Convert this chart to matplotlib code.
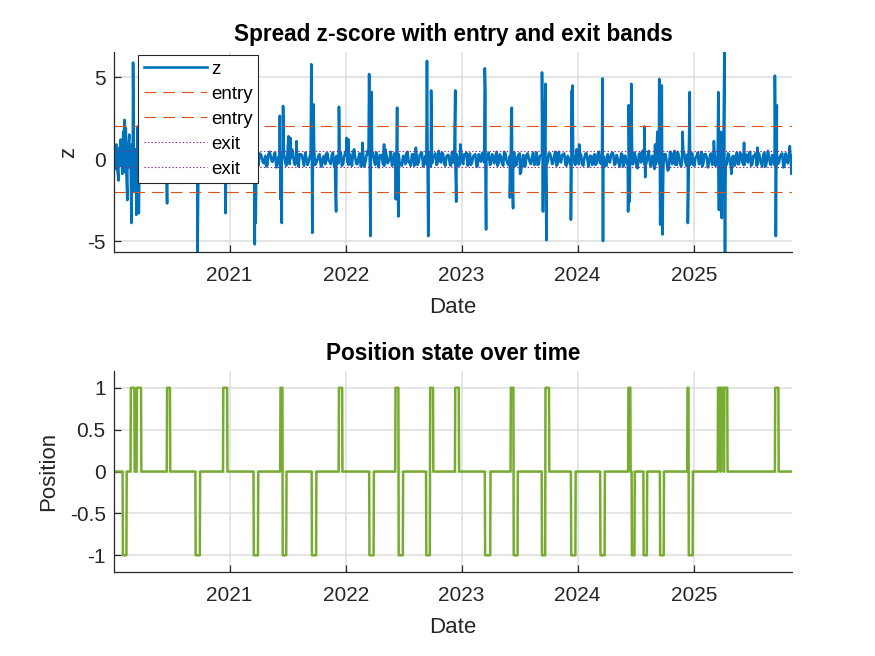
import numpy as np
import pandas as pd
import matplotlib
matplotlib.use("Agg")
import matplotlib.pyplot as plt
import matplotlib.dates as mdates

plt.rcParams["font.family"] = ["Liberation Sans", "DejaVu Sans"]
plt.rcParams["axes.unicode_minus"] = False
plt.rcParams["lines.scale_dashes"] = False

# ---- data -------------------------------------------------------------
start_date = "2020-01-03"
end_date = "2025-11-06"

# background values of the spread z-score, Fridays (one row per half year)
z_fri = [
    0.3, -0.6, 0.5, -0.4, 0.2, -0.8, 0.6, -0.5, 0.9, -0.7, 0.4, -0.3, 0.35, -0.4, 0.1, -0.35, 0.3, -0.2, 0.25, -0.45, 0.15, -0.3, 0.4, -0.25, 0.2, -0.4,
    0.3, -0.15, 0.35, -0.4, 0.2, -0.3, 0.45, -0.2, 0.1, -0.35, 0.3, -0.45, 0.25, -0.1, 0.35, -0.3, 0.2, -0.4, 0.15, -0.25, 0.4, -0.3, 0.1, -0.5, 0.3, -0.2,
    0.25, -0.35, 0.4, -0.2, 0.15, -0.45, 0.3, -0.1, 0.35, -0.3, 0.55, -0.25, 0.1, -0.4, 0.3, -0.2, 0.2, -0.35, 0.45, -0.15, 0.3, -0.5, 0.15, -0.3, 0.4, -0.2,
    0.35, -0.3, 0.6, -0.25, 0.2, -0.45, 0.3, -0.1, 0.4, -0.35, 0.15, -0.3, 0.5, -0.2, 0.25, -0.4, 0.1, -0.3, 0.35, -0.15, 0.3, -0.45, 0.2, -0.25, 0.4, -0.3,
    0.45, -0.2, 0.3, -0.4, 0.6, -0.3, 0.15, -0.45, 0.35, -0.2, 0.5, -0.35, 0.2, -0.15, 0.4, -0.5, 0.25, -0.3, 0.6, -0.25, 0.1, -0.4, 0.35, -0.2, 0.3, -0.35,
    0.2, -0.3, 0.45, -0.15, 0.3, -0.4, 0.25, -0.2, 0.35, -0.45, 0.2, -0.3, 0.4, -0.25, 0.15, -0.35, 0.5, -0.2, 0.3, -0.4, 0.25, -0.3, 0.45, -0.15, 0.3, -0.4,
    0.55, -0.3, 0.2, -0.4, 0.35, -0.2, 0.25, -0.45, 0.3, -0.15, 0.4, -0.3, 0.2, -0.35, 0.3, -0.25, 0.45, -0.2, 0.15, -0.4, 0.35, -0.3, 0.2, -0.25, 0.4, -0.35,
    0.3, -0.8, 0.25, -0.4, 0.35, -0.2, 0.15, -0.35, 0.4, -0.3, 0.2, -0.45, 0.3, -0.15, 0.35, -0.3, 0.25, -0.4, 0.45, -0.2, 0.3, -0.35, 0.2, -0.3, 0.5, -0.25,
    0.6, -0.3, 0.25, -0.4, 0.35, -0.15, 0.2, -0.35, 0.3, -0.25, 0.45, -0.3, 0.15, -0.4, 0.3, -0.2, 0.4, -0.35, 0.25, -0.3, 0.35, -0.45, 0.2, -0.25, 0.3, -0.3,
    0.4, -0.5, 0.3, -0.2, 0.55, -0.4, 0.25, -0.3, 0.2, -0.6, 0.35, -0.25, 0.6, -0.4, 0.3, -0.7, 0.45, -0.3, 0.5, -0.35, 0.2, -0.45, 0.4, -0.25, 0.3, -0.35,
    0.35, -0.4, 0.2, -0.3, 0.45, -0.25, 0.3, -0.5, 0.25, -0.35, 0.4, -0.2, 0.3, -0.45, 0.2, -0.3, 0.35, -0.25, 0.15, -0.4, 0.4, -0.3, 0.25, -0.35, 0.3, -0.2,
    0.45, -0.3, 0.2, -0.4, 0.35, -0.25, 0.3, -0.45, 0.5, -0.3, 0.25, -0.35, 0.4, -0.2, 0.3, -0.5, 0.35, -0.25, 0.4,
]
# background values, Mondays
z_mon = [
    0.1, -0.5, 0.7, 0.2, -0.6, -0.3, 0.8, 0.1, -0.5, 0.6, -0.1, -0.4, 0.2, 0.3, -0.45, -0.1, 0.15, 0.4, -0.3, 0.05, 0.35, -0.4, -0.15, 0.3, 0.1, -0.35,
    -0.05, 0.35, -0.4, 0.1, 0.3, -0.25, -0.4, 0.2, 0.35, -0.1, -0.3, 0.15, 0.4, -0.35, 0.05, 0.25, -0.45, -0.2, 0.3, 0.1, -0.35, 0.25, -0.1, 0.4, -0.3, -0.15,
    0.1, 0.3, -0.45, -0.1, 0.35, 0.2, -0.3, -0.4, 0.15, 0.3, -0.2, 0.05, -0.4, 0.35, 0.1, -0.25, -0.45, 0.3, 0.2, -0.15, 0.4, -0.35, -0.05, 0.25, 0.3, -0.4,
    -0.2, 0.05, 0.45, -0.35, -0.1, 0.3, 0.25, -0.4, 0.1, -0.2, 0.4, 0.15, -0.35, -0.05, 0.3, -0.45, 0.2, 0.35, -0.1, -0.3, 0.4, 0.05, -0.25, 0.3, -0.4, 0.1,
    0.25, -0.35, -0.15, 0.45, 0.1, -0.3, 0.35, -0.2, -0.45, 0.15, 0.3, -0.05, 0.4, -0.35, -0.2, 0.25, 0.1, -0.4, 0.3, -0.15, 0.45, -0.3, 0.05, 0.35, -0.25, -0.4,
    0.15, 0.35, -0.2, -0.4, 0.3, 0.05, -0.35, 0.25, 0.4, -0.1, -0.3, 0.2, -0.45, 0.1, 0.35, -0.25, -0.05, 0.4, -0.3, 0.15, 0.25, -0.4, -0.2, 0.3, 0.1, -0.35,
    -0.1, 0.3, 0.4, -0.25, -0.35, 0.15, 0.3, -0.45, 0.05, 0.35, -0.2, -0.1, 0.4, -0.3, 0.2, 0.1, -0.4, 0.3, -0.25, 0.45, -0.05, -0.35, 0.2, 0.3, -0.4, 0.15,
    0.35, -0.2, -0.45, 0.25, 0.1, -0.3, 0.4, -0.15, -0.35, 0.2, 0.3, -0.05, -0.4, 0.35, 0.15, -0.25, 0.45, -0.3, -0.1, 0.25, 0.35, -0.4, 0.05, -0.2, 0.3, -0.35,
    -0.15, 0.4, -0.3, 0.05, 0.35, -0.45, 0.2, 0.1, -0.35, 0.3, -0.2, 0.4, 0.15, -0.4, -0.1, 0.25, 0.35, -0.3, 0.05, -0.45, 0.3, 0.2, -0.25, -0.1, 0.4, -0.3,
    0.2, -0.55, 0.35, 0.45, -0.3, -0.2, 0.5, -0.45, 0.1, -0.35, 0.4, 0.25, -0.5, 0.3, -0.15, -0.6, 0.4, 0.2, -0.35, 0.45, -0.25, -0.1, 0.35, -0.4, 0.15, 0.3,
    -0.35, 0.1, 0.4, -0.25, -0.45, 0.3, 0.15, -0.3, 0.35, -0.1, -0.4, 0.25, 0.45, -0.2, 0.05, -0.35, 0.3, -0.45, 0.2, 0.1, -0.3, 0.4, -0.15, -0.35, 0.25, 0.3,
    -0.4, 0.2, 0.35, -0.3, 0.1, -0.45, 0.4, -0.2, 0.25, -0.35, -0.1, 0.45, -0.3, 0.15, 0.35, -0.4, 0.05, 0.3, -0.25,
]

# spikes around the roll dates and other excursions
spike_dates = [
    "2020-01-10", "2020-01-17", "2020-01-24", "2020-01-29", "2020-02-01", "2020-02-05",
    "2020-02-09", "2020-02-14", "2020-02-20", "2020-02-27", "2020-03-03", "2020-03-07",
    "2020-03-13", "2020-03-17", "2020-03-21", "2020-03-29",
    "2020-06-15", "2020-06-18", "2020-09-19", "2020-09-22", "2020-12-16", "2020-12-19",
    "2021-03-18", "2021-03-21", "2021-03-24",
    "2021-06-08", "2021-06-10", "2021-06-14", "2021-06-18",
    "2021-07-05", "2021-07-11", "2021-07-30",
    "2021-09-15", "2021-09-18", "2021-09-22",
    "2021-11-29", "2021-12-02", "2021-12-11",
    "2022-01-04", "2022-01-10", "2022-02-23",
    "2022-03-16", "2022-03-20", "2022-03-24", "2022-05-02",
    "2022-06-08", "2022-06-12", "2022-06-16", "2022-08-10",
    "2022-09-14", "2022-09-18", "2022-09-27",
    "2022-12-12", "2022-12-15", "2022-12-28",
    "2023-03-15", "2023-03-17", "2023-03-19",
    "2023-06-02", "2023-06-06", "2023-06-08", "2023-06-12", "2023-07-04",
    "2023-09-11", "2023-09-14", "2023-09-22", "2023-09-25",
    "2023-12-11", "2023-12-14", "2023-12-16", "2024-01-06",
    "2024-03-19", "2024-03-21",
    "2024-06-08", "2024-06-10", "2024-06-13", "2024-06-18",
    "2024-07-29", "2024-08-01",
    "2024-09-01", "2024-09-08", "2024-09-14", "2024-09-17", "2024-09-22", "2024-09-24",
    "2024-11-26", "2024-12-13", "2024-12-19",
    "2025-03-05", "2025-03-19", "2025-03-21", "2025-03-27", "2025-03-30",
    "2025-04-07", "2025-04-09", "2025-04-29", "2025-06-08", "2025-07-20",
    "2025-09-13", "2025-09-16", "2025-09-19",
    "2025-10-30", "2025-11-04", "2025-11-06",
]
spike_vals = [
    0.9, -1.3, 1.2, -0.9, 1.7, 2.4,
    1.9, -2.5, 1.5, -3.9, 5.9, -2.0,
    -3.4, 2.0, -3.3, 1.0,
    2.6, -2.7, 4.5, -5.65, 3.5, -3.3,
    4.0, -5.2, -3.9,
    2.65, -2.45, -3.9, 3.25,
    1.4, 1.3, 1.1,
    5.8, -4.5, 3.35,
    -1.1, -3.2, 3.2,
    1.3, 1.2, 1.0,
    5.2, -4.7, 4.1, 0.9,
    -2.45, 3.15, -3.5, 0.7,
    6.0, -4.7, 4.2,
    4.2, -2.6, 0.9,
    5.55, 4.1, -4.3,
    -2.35, 2.2, 3.15, -3.0, -0.9,
    5.3, -3.2, 4.6, -4.95,
    -3.7, 4.2, 4.5, 0.9,
    4.93, -5.0,
    -3.2, 3.3, -2.6, 4.6,
    2.0, -1.1,
    0.9, 1.67, 4.9, -4.0, 4.5, -4.6,
    1.67, -3.9, 4.1,
    1.1, 4.1, -3.1, 1.67, -3.6,
    6.55, -5.67, -0.9, 1.0, 0.7,
    5.1, -4.7, 3.3,
    0.8, -0.9, 0.2,
]

entry_levels = [2, -2]
exit_levels = [0.5, -0.5]

# position state intervals (start, end, value)
pos_start = [
    "2020-01-31", "2020-02-25", "2020-03-15", "2020-06-18", "2020-09-16", "2020-12-12",
    "2021-03-18", "2021-06-10", "2021-06-17", "2021-09-17", "2021-12-11",
    "2022-03-17", "2022-06-07", "2022-06-17", "2022-09-12", "2022-09-24", "2022-12-12",
    "2023-03-16", "2023-06-05", "2023-06-14", "2023-09-11", "2023-09-22", "2023-12-12",
    "2024-03-13", "2024-06-09", "2024-06-20", "2024-07-27", "2024-09-17", "2024-12-12", "2024-12-16",
    "2025-03-18", "2025-03-28", "2025-04-07", "2025-09-14",
]
pos_end = [
    "2020-02-11", "2020-03-07", "2020-03-28", "2020-06-27", "2020-09-29", "2020-12-24",
    "2021-03-31", "2021-06-16", "2021-06-28", "2021-09-30", "2021-12-21",
    "2022-03-30", "2022-06-16", "2022-06-30", "2022-09-23", "2022-10-03", "2022-12-23",
    "2023-04-01", "2023-06-13", "2023-06-26", "2023-09-21", "2023-10-03", "2023-12-25",
    "2024-03-26", "2024-06-15", "2024-06-28", "2024-08-06", "2024-09-28", "2024-12-15", "2024-12-28",
    "2025-03-25", "2025-04-04", "2025-04-16", "2025-09-24",
]
pos_val = [
    -1, 1, 1, 1, -1, 1,
    -1, 1, -1, -1, 1,
    -1, 1, -1, -1, 1, 1,
    -1, 1, -1, -1, 1, -1,
    -1, 1, -1, -1, -1, 1, -1,
    1, 1, 1, 1,
]

# ---- build series -----------------------------------------------------
z = pd.concat([
    pd.Series(z_fri, index=pd.date_range(start_date, periods=len(z_fri), freq="7D")),
    pd.Series(z_mon, index=pd.date_range("2020-01-06", periods=len(z_mon), freq="7D")),
    pd.Series(spike_vals, index=pd.to_datetime(spike_dates)),
]).sort_index()

days = pd.date_range(start_date, end_date, freq="D")
pos = pd.Series(0.0, index=days)
for s, e, v in zip(pos_start, pos_end, pos_val):
    pos[s:e] = v

# ---- plot -------------------------------------------------------------
dark = "#262626"
xlim = (pd.Timestamp(start_date), pd.Timestamp(end_date))
years = pd.to_datetime(["2021-01-01", "2022-01-01", "2023-01-01", "2024-01-01", "2025-01-01"])

fig = plt.figure(figsize=(8.75, 6.56), dpi=100)
ax1 = fig.add_axes([0.1303, 0.6159, 0.7749, 0.3049])
ax2 = fig.add_axes([0.1303, 0.128, 0.7749, 0.3064])

ax1.plot(z.index, z.values, color="#0072BD", lw=1.9, label="z")
for lv in entry_levels:
    ax1.axhline(lv, color="#D95319", lw=0.8, dashes=(8.5, 5), label="entry")
for lv in exit_levels:
    ax1.axhline(lv, color="#7E2F8E", lw=0.8, dashes=(1, 1.5), label="exit")
ax1.set_ylim(z.min(), z.max())
ax1.set_yticks([-5, 0, 5])
ax1.set_title("Spread z-score with entry and exit bands", fontsize=16.3, fontweight="bold", color="black", pad=8)
ax1.set_ylabel("z", fontsize=16, color=dark, labelpad=5.5)

ax2.plot(pos.index, pos.values, color="#77AC30", lw=1.8)
ax2.set_ylim(-1.2, 1.2)
ax2.set_yticks([-1, -0.5, 0, 0.5, 1])
ax2.set_yticklabels(["-1", "-0.5", "0", "0.5", "1"])
ax2.set_title("Position state over time", fontsize=16.3, fontweight="bold", color="black", pad=8)
ax2.set_ylabel("Position", fontsize=16, color=dark, labelpad=7.5)

for ax in (ax1, ax2):
    ax.set_xlim(xlim)
    ax.set_xticks(years)
    ax.xaxis.set_major_formatter(mdates.DateFormatter("%Y"))
    ax.set_xlabel("Date", fontsize=16, color=dark, labelpad=8.5)
    ax.grid(True, color="#dedede", lw=1.1)
    ax.set_axisbelow(True)
    for side in ("top", "right"):
        ax.spines[side].set_visible(False)
    for side in ("left", "bottom"):
        ax.spines[side].set_color(dark)
        ax.spines[side].set_linewidth(0.9)
    ax.tick_params(direction="in", length=5, width=0.9, colors=dark, labelsize=15, pad=6)
    ax.tick_params(axis="x", pad=10)

leg = ax1.legend(loc="upper left", bbox_to_anchor=(138 / 875, 1 - 55 / 656),
                 bbox_transform=fig.transFigure, fancybox=False, framealpha=1,
                 edgecolor=dark, fontsize=13.5, handlelength=3.4, handletextpad=0.2,
                 labelspacing=0.42, borderpad=0.3, borderaxespad=0)
leg.get_frame().set_linewidth(0.8)

fig.savefig("out.png", dpi=100)
